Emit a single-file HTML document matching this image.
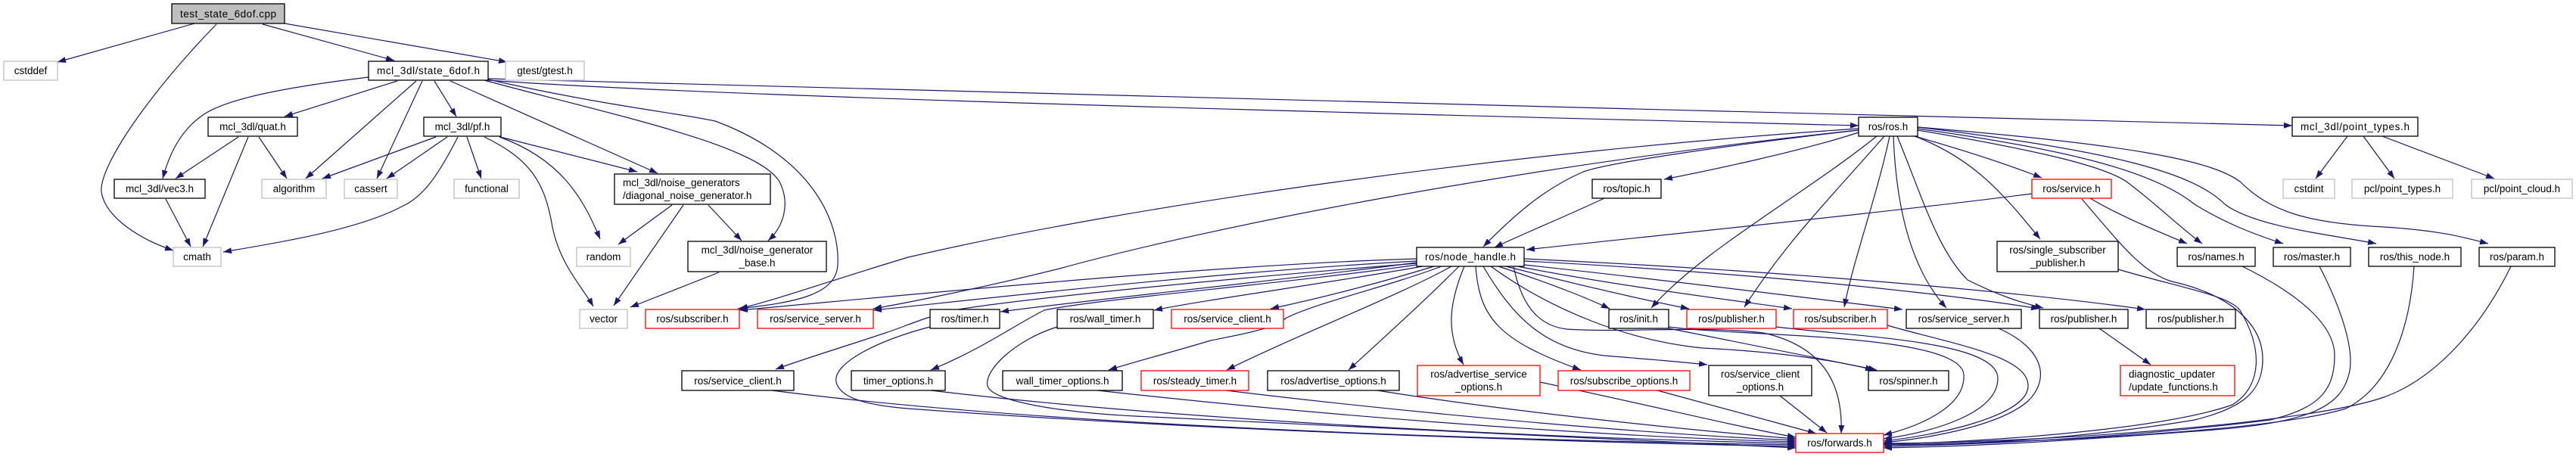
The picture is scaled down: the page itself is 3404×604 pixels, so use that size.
<!DOCTYPE html>
<html><head><meta charset="utf-8"><style>
html,body{margin:0;padding:0;background:#fff;}
svg{display:block;}
text{font-family:"Liberation Sans",sans-serif;font-size:13.5px;fill:#000;}
.e{fill:none;stroke:#191970;stroke-width:1.2;marker-end:url(#a);}
.b{fill:#fff;stroke:#000;stroke-width:1.3;}
.g{fill:#fff;stroke:#bfbfbf;stroke-width:1.3;}
.r{fill:#fff;stroke:#ff0000;stroke-width:1.3;}
</style></head><body>
<svg width="3404" height="604" viewBox="0 0 3404 604" xmlns="http://www.w3.org/2000/svg">
<defs><marker id="a" markerWidth="12" markerHeight="10" refX="11" refY="4" orient="auto" markerUnits="userSpaceOnUse"><path d="M0,0 L11,4 L0,8 z" fill="#191970"/></marker></defs>
<g>
<!-- root edges -->
<path class="e" d="M257,31 L76,82"/>
<path class="e" d="M286,32 C200,120 130,220 134,254 C140,290 190,318 229,331"/>
<path class="e" d="M347,32 L521,80"/>
<path class="e" d="M376,31 L670,82"/>
<!-- state edges -->
<path class="e" d="M487,102 C380,115 300,130 268,152 C235,175 222,210 215,236"/>
<path class="e" d="M525,107 L376,154"/>
<path class="e" d="M550,107 L404,236"/>
<path class="e" d="M558,107 L498,236"/>
<path class="e" d="M574,107 L603,154"/>
<path class="e" d="M595,107 L869,229"/>
<path class="e" d="M640,106 C800,150 1000,190 1030,240 C1045,270 1035,300 1015,318"/>
<path class="e" d="M645,105 C800,140 900,150 945,160 C1080,210 1110,300 1107,350 C1105,390 1050,400 975,408"/>
<path class="e" d="M645,106 C900,125 1600,145 2456,166"/>
<path class="e" d="M645,104 C1000,115 2200,145 3029,166"/>
<!-- quat, vec3 -->
<path class="e" d="M315,181 L232,236"/>
<path class="e" d="M328,181 L268,326"/>
<path class="e" d="M342,181 L379,236"/>
<path class="e" d="M219,263 L252,326"/>
<!-- pf -->
<path class="e" d="M576,181 L426,236"/>
<path class="e" d="M591,181 L511,236"/>
<path class="e" d="M605,181 C580,230 560,260 531,273 C470,305 360,322 295,333"/>
<path class="e" d="M617,181 L636,236"/>
<path class="e" d="M640,181 C700,210 720,240 730,300 C740,350 770,380 784,405"/>
<path class="e" d="M660,181 C740,210 770,260 793,316"/>
<path class="e" d="M661,181 L842,227"/>
<!-- diag, base -->
<path class="e" d="M888,271 L817,323"/>
<path class="e" d="M903,271 L811,404"/>
<path class="e" d="M936,271 L980,318"/>
<path class="e" d="M950,360 L833,406"/>
<!-- ros.h edges -->
<path class="e" d="M2456,175 C2380,200 2260,225 2199,237"/>
<path class="e" d="M2456,172 C2300,190 2120,215 2090,228 C2040,250 2000,285 1960,326"/>
<path class="e" d="M2120,262 C2060,290 2010,310 1975,327"/>
<path class="e" d="M2456,170 C2000,200 1500,270 1200,340 C1100,370 1030,395 977,408"/>
<path class="e" d="M2456,172 C2000,220 1600,300 1400,355 C1300,380 1200,400 1154,408"/>
<path class="e" d="M2480,180 C2380,260 2250,330 2182,407"/>
<path class="e" d="M2490,180 C2420,260 2360,320 2305,406"/>
<path class="e" d="M2497,180 C2480,260 2450,340 2437,406"/>
<path class="e" d="M2502,180 C2505,260 2520,350 2572,407"/>
<path class="e" d="M2507,180 C2540,260 2560,330 2600,370 C2640,390 2670,400 2700,407"/>
<path class="e" d="M2530,180 C2600,200 2660,220 2698,235"/>
<path class="e" d="M2530,180 C2610,210 2650,260 2696,316"/>
<path class="e" d="M2534,172 C2700,200 2780,220 2810,240 C2850,270 2880,300 2910,322"/>
<path class="e" d="M2534,170 C2750,200 2850,230 2900,270 C2940,295 2980,310 3017,322"/>
<path class="e" d="M2534,168 C2800,200 2900,230 2940,270 C2980,300 3080,310 3140,322"/>
<path class="e" d="M2534,168 C2800,190 2920,210 2960,240 C3000,280 3050,295 3150,300 C3230,305 3260,315 3288,322"/>
<path class="e" d="M2685,256 C2500,280 2200,310 2017,330"/>
<path class="e" d="M2762,262 C2800,285 2850,305 2890,322"/>
<path class="e" d="M2774,434 L2842,482"/>
<path class="e" d="M3102,180 L3060,236"/>
<path class="e" d="M3123,180 L3164,236"/>
<path class="e" d="M3148,180 L3296,236"/>
<!-- node_handle edges -->
<path class="e" d="M1872,342 C1600,350 1200,390 977,410"/>
<path class="e" d="M1872,345 C1600,360 1300,395 1154,410"/>
<path class="e" d="M1872,347 C1700,370 1450,395 1322,412"/>
<path class="e" d="M1872,348 C1600,370 1350,395 1260,410 C1220,420 1200,430 1170,440 C1110,460 1060,475 1025,488"/>
<path class="e" d="M1872,350 C1700,375 1450,395 1380,410 C1340,430 1300,460 1230,489"/>
<path class="e" d="M1880,352 C1750,375 1600,395 1525,410"/>
<path class="e" d="M1895,352 C1820,375 1740,395 1679,408"/>
<path class="e" d="M1905,352 C1830,380 1740,400 1700,420 C1680,435 1650,440 1600,450 C1550,465 1500,478 1465,489"/>
<path class="e" d="M1918,352 C1850,390 1720,440 1621,489"/>
<path class="e" d="M1928,352 C1880,400 1830,445 1782,489"/>
<path class="e" d="M1935,352 C1915,400 1910,440 1934,482"/>
<path class="e" d="M1950,352 C1955,420 1980,450 2089,489"/>
<path class="e" d="M1960,352 C2000,420 2040,460 2120,470 C2180,475 2220,478 2256,482"/>
<path class="e" d="M1970,352 C2050,410 2150,450 2250,460 C2350,465 2420,475 2476,489"/>
<path class="e" d="M1980,352 C2050,375 2100,395 2127,408"/>
<path class="e" d="M1990,352 C2100,380 2180,398 2232,408"/>
<path class="e" d="M2005,352 C2150,380 2300,398 2368,408"/>
<path class="e" d="M2014,350 C2200,370 2400,395 2514,409"/>
<path class="e" d="M2014,345 C2300,360 2550,385 2695,408"/>
<path class="e" d="M2014,342 C2400,360 2700,390 2835,409"/>
<path class="e" d="M2000,352 C2010,400 2030,430 2070,435 C2150,440 2250,430 2330,440 C2420,460 2435,520 2433,573"/>
<path class="e" d="M2205,434 L2480,489"/>
<!-- to forwards -->
<path class="e" d="M2963,352 C3040,390 3085,430 3085,470 C3085,520 3060,540 3000,555 C2800,580 2600,588 2489,590"/>
<path class="e" d="M3065,352 C3095,410 3110,460 3105,490 C3095,540 3050,560 2900,570 C2700,585 2600,590 2489,592"/>
<path class="e" d="M3190,352 C3185,430 3160,510 3100,540 C3000,570 2700,585 2489,588"/>
<path class="e" d="M3318,352 C3280,430 3220,500 3150,525 C3050,560 2700,585 2489,586"/>
<path class="e" d="M2751,263 C2800,320 2830,360 2870,372 C2950,390 2990,430 2990,475 C2990,520 2960,540 2900,555 C2750,580 2600,588 2489,588"/>
<path class="e" d="M2799,356 C2880,380 2945,390 2960,410 C2990,460 2990,510 2950,535 C2850,570 2600,585 2489,587"/>
<path class="e" d="M2641,434 C2700,460 2710,500 2680,530 C2640,565 2540,580 2489,585"/>
<path class="e" d="M2494,430 C2580,455 2680,470 2680,510 C2680,550 2560,575 2489,583"/>
<path class="e" d="M2347,432 C2450,445 2640,450 2640,500 C2640,545 2560,570 2489,580"/>
<path class="e" d="M2205,432 C2300,445 2590,440 2595,495 C2598,540 2530,565 2489,575"/>
<path class="e" d="M2352,523 L2414,572"/>
<path class="e" d="M2190,516 L2400,573"/>
<path class="e" d="M2035,505 C2200,540 2300,565 2373,578"/>
<path class="e" d="M1820,516 C2000,545 2250,570 2373,580"/>
<path class="e" d="M1620,516 C1900,550 2200,575 2373,582"/>
<path class="e" d="M1450,516 C1800,555 2150,578 2373,584"/>
<path class="e" d="M1230,516 C1600,560 2100,580 2373,586"/>
<path class="e" d="M1020,516 C1400,565 2000,582 2373,588"/>
<path class="e" d="M1229,432 C1160,450 1100,480 1105,505 C1110,525 1140,535 1200,540 C1600,570 2100,585 2373,590"/>
<path class="e" d="M1397,432 C1340,450 1300,490 1305,510 C1310,530 1400,545 1500,550 C1900,570 2200,585 2373,592"/>
</g>
<g>
<rect x="227" y="5" width="149" height="26" fill="#bfbfbf" stroke="#000" stroke-width="1.3"/><text x="301.5" y="23" text-anchor="middle" textLength="127">test_state_6dof.cpp</text>
<rect class="g" x="5" y="81" width="71" height="25"/><text x="40.5" y="98" text-anchor="middle">cstddef</text>
<rect class="b" x="487" y="81" width="158" height="25"/><text x="566" y="98" text-anchor="middle" textLength="136">mcl_3dl/state_6dof.h</text>
<rect class="g" x="668" y="81" width="104" height="25"/><text x="720" y="98" text-anchor="middle">gtest/gtest.h</text>
<rect class="b" x="275" y="155" width="118" height="25"/><text x="334" y="172" text-anchor="middle">mcl_3dl/quat.h</text>
<rect class="b" x="560" y="155" width="102" height="25"/><text x="611" y="172" text-anchor="middle">mcl_3dl/pf.h</text>
<rect class="b" x="2456" y="155" width="78" height="25"/><text x="2495" y="172" text-anchor="middle">ros/ros.h</text>
<rect class="b" x="3029" y="155" width="166" height="25"/><text x="3112" y="172" text-anchor="middle" textLength="144">mcl_3dl/point_types.h</text>
<rect class="b" x="151" y="237" width="120" height="25"/><text x="211" y="254" text-anchor="middle">mcl_3dl/vec3.h</text>
<rect class="g" x="346" y="237" width="85" height="25"/><text x="388.5" y="254" text-anchor="middle">algorithm</text>
<rect class="g" x="455" y="237" width="70" height="25"/><text x="490" y="254" text-anchor="middle">cassert</text>
<rect class="g" x="600" y="237" width="86" height="25"/><text x="643" y="254" text-anchor="middle">functional</text>
<rect class="b" x="812" y="230" width="206" height="40"/><text x="823" y="246">mcl_3dl/noise_generators</text><text x="823" y="263">/diagonal_noise_generator.h</text>
<rect class="b" x="2104" y="237" width="91" height="25"/><text x="2149.5" y="254" text-anchor="middle">ros/topic.h</text>
<rect class="r" x="2685" y="237" width="105" height="25"/><text x="2737.5" y="254" text-anchor="middle">ros/service.h</text>
<rect class="g" x="3017" y="237" width="68" height="25"/><text x="3051" y="254" text-anchor="middle">cstdint</text>
<rect class="g" x="3108" y="237" width="133" height="25"/><text x="3174.5" y="254" text-anchor="middle">pcl/point_types.h</text>
<rect class="g" x="3266" y="237" width="133" height="25"/><text x="3332.5" y="254" text-anchor="middle">pcl/point_cloud.h</text>
<rect class="g" x="229" y="327" width="63" height="25"/><text x="260.5" y="344" text-anchor="middle">cmath</text>
<rect class="g" x="762" y="327" width="71" height="25"/><text x="797.5" y="344" text-anchor="middle">random</text>
<rect class="b" x="909" y="319" width="183" height="40"/><text x="1000.5" y="335" text-anchor="middle">mcl_3dl/noise_generator</text><text x="1000.5" y="352" text-anchor="middle">_base.h</text>
<rect class="b" x="1872" y="327" width="142" height="25"/><text x="1943" y="344" text-anchor="middle" textLength="120">ros/node_handle.h</text>
<rect class="b" x="2639" y="319" width="160" height="40"/><text x="2719" y="335" text-anchor="middle">ros/single_subscriber</text><text x="2719" y="352" text-anchor="middle">_publisher.h</text>
<rect class="b" x="2877" y="327" width="103" height="25"/><text x="2928.5" y="344" text-anchor="middle">ros/names.h</text>
<rect class="b" x="3004" y="327" width="102" height="25"/><text x="3055" y="344" text-anchor="middle">ros/master.h</text>
<rect class="b" x="3130" y="327" width="122" height="25"/><text x="3191" y="344" text-anchor="middle">ros/this_node.h</text>
<rect class="b" x="3276" y="327" width="100" height="25"/><text x="3326" y="344" text-anchor="middle">ros/param.h</text>
<rect class="g" x="766" y="409" width="63" height="25"/><text x="797.5" y="426" text-anchor="middle">vector</text>
<rect class="r" x="853" y="409" width="124" height="25"/><text x="915" y="426" text-anchor="middle">ros/subscriber.h</text>
<rect class="r" x="1001" y="409" width="153" height="25"/><text x="1077.5" y="426" text-anchor="middle">ros/service_server.h</text>
<rect class="b" x="1229" y="409" width="92" height="25"/><text x="1275" y="426" text-anchor="middle">ros/timer.h</text>
<rect class="b" x="1397" y="409" width="127" height="25"/><text x="1460.5" y="426" text-anchor="middle">ros/wall_timer.h</text>
<rect class="r" x="1548" y="409" width="148" height="25"/><text x="1622" y="426" text-anchor="middle">ros/service_client.h</text>
<rect class="b" x="2126" y="409" width="79" height="25"/><text x="2165.5" y="426" text-anchor="middle">ros/init.h</text>
<rect class="r" x="2229" y="409" width="118" height="25"/><text x="2288" y="426" text-anchor="middle">ros/publisher.h</text>
<rect class="r" x="2370" y="409" width="124" height="25"/><text x="2432" y="426" text-anchor="middle">ros/subscriber.h</text>
<rect class="b" x="2519" y="409" width="152" height="25"/><text x="2595" y="426" text-anchor="middle">ros/service_server.h</text>
<rect class="b" x="2695" y="409" width="117" height="25"/><text x="2753.5" y="426" text-anchor="middle">ros/publisher.h</text>
<rect class="b" x="2836" y="409" width="118" height="25"/><text x="2895" y="426" text-anchor="middle">ros/publisher.h</text>
<rect class="b" x="901" y="490" width="148" height="26"/><text x="975" y="508" text-anchor="middle">ros/service_client.h</text>
<rect class="b" x="1125" y="490" width="124" height="26"/><text x="1187" y="508" text-anchor="middle">timer_options.h</text>
<rect class="b" x="1325" y="490" width="158" height="26"/><text x="1404" y="508" text-anchor="middle">wall_timer_options.h</text>
<rect class="r" x="1508" y="490" width="142" height="26"/><text x="1579" y="508" text-anchor="middle">ros/steady_timer.h</text>
<rect class="b" x="1675" y="490" width="174" height="26"/><text x="1762" y="508" text-anchor="middle">ros/advertise_options.h</text>
<rect class="r" x="1873" y="483" width="162" height="40"/><text x="1954" y="499" text-anchor="middle">ros/advertise_service</text><text x="1954" y="516" text-anchor="middle">_options.h</text>
<rect class="r" x="2059" y="490" width="174" height="26"/><text x="2146" y="508" text-anchor="middle">ros/subscribe_options.h</text>
<rect class="b" x="2258" y="483" width="136" height="40"/><text x="2326" y="499" text-anchor="middle">ros/service_client</text><text x="2326" y="516" text-anchor="middle">_options.h</text>
<rect class="b" x="2469" y="490" width="106" height="26"/><text x="2522" y="508" text-anchor="middle">ros/spinner.h</text>
<rect class="r" x="2802" y="483" width="151" height="40"/><text x="2813" y="499">diagnostic_updater</text><text x="2813" y="516">/update_functions.h</text>
<rect class="r" x="2373" y="573" width="116" height="25"/><text x="2431" y="590" text-anchor="middle">ros/forwards.h</text>
</g>
</svg>
</body></html>
